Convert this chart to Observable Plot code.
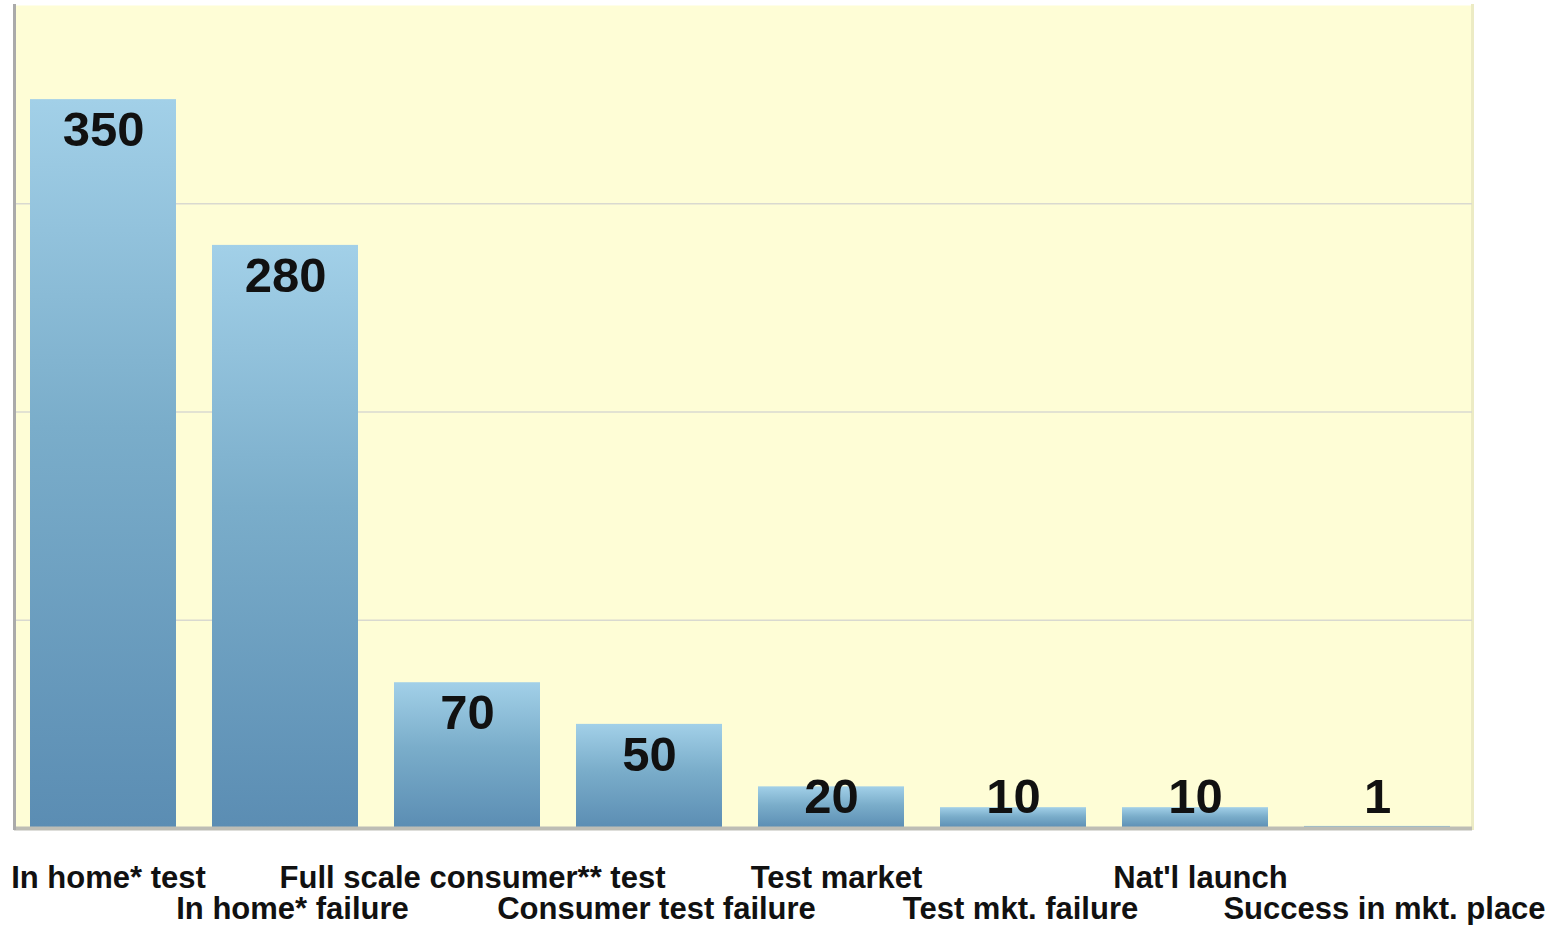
<!DOCTYPE html>
<html>
<head>
<meta charset="utf-8">
<script src="https://cdn.jsdelivr.net/npm/d3@7"></script>
<script src="https://cdn.jsdelivr.net/npm/@observablehq/plot@0.6"></script>
<style>
  html, body { margin: 0; padding: 0; background: #ffffff; }
  #chart svg { display: block; }
</style>
</head>
<body>
<div id="chart"></div>
<script>
const categories = [
  "In home* test",
  "In home* failure",
  "Full scale consumer** test",
  "Consumer test failure",
  "Test market",
  "Test mkt. failure",
  "Nat'l launch",
  "Success in mkt. place"
];
const values = [350, 280, 70, 50, 20, 10, 10, 1];
const gridTicks = [100, 200, 300];

const data = categories.map((c, i) => ({category: c, value: values[i], row: i % 2}));

const font = "'Liberation Sans', Arial, sans-serif";

const chart = Plot.plot({
  width: 1566,
  height: 925,
  marginLeft: 14,
  marginRight: 94,
  marginTop: 5,
  marginBottom: 97,
  style: {background: "#ffffff", fontFamily: font},
  x: {domain: categories, paddingInner: 0.2, paddingOuter: 0.1, range: [12, 1468], axis: null},
  y: {domain: [0, 400], range: [828, -5], axis: null},
  marks: [
    Plot.frame({fill: "#fefdd6", stroke: null}),
    Plot.frame({anchor: "right", stroke: "#ecebc4", strokeWidth: 3}),
    Plot.ruleY(gridTicks, {stroke: "#d9d9d0", strokeWidth: 1.5}),
    Plot.barY(data, {x: "category", y: "value", fill: "url(#barGrad)"}),
    Plot.ruleY([0], {stroke: "#bdbdb5", strokeWidth: 4}),
    Plot.frame({anchor: "left", stroke: "#aaaaaa", strokeWidth: 3}),
    Plot.text(data, {
      x: "category",
      y: d => Math.max(d.value, 30),
      text: d => String(d.value),
      dy: 31,
      lineAnchor: "middle",
      fontSize: 49,
      fontWeight: "bold",
      fill: "#111111"
    }),
    Plot.text(data.filter(d => d.row === 0), {
      x: "category",
      y: 0,
      text: "category",
      dy: 50,
      dx: 5,
      lineAnchor: "middle",
      fontSize: 31,
      fontWeight: "bold",
      fill: "#111111"
    }),
    Plot.text(data.filter(d => d.row === 1), {
      x: "category",
      y: 0,
      text: "category",
      dy: 81,
      dx: 7,
      lineAnchor: "middle",
      fontSize: 31,
      fontWeight: "bold",
      fill: "#111111"
    })
  ]
});

// gradient definition for bars (per-bar, top light to bottom dark)
const ns = "http://www.w3.org/2000/svg";
const defs = document.createElementNS(ns, "defs");
const grad = document.createElementNS(ns, "linearGradient");
grad.setAttribute("id", "barGrad");
grad.setAttribute("x1", "0"); grad.setAttribute("y1", "0");
grad.setAttribute("x2", "0"); grad.setAttribute("y2", "1");
[["0%", "#a2d0e8"], ["45%", "#7aadca"], ["100%", "#5b8db3"]].forEach(([o, c]) => {
  const s = document.createElementNS(ns, "stop");
  s.setAttribute("offset", o);
  s.setAttribute("stop-color", c);
  grad.appendChild(s);
});
defs.appendChild(grad);
chart.insertBefore(defs, chart.firstChild);

document.getElementById("chart").appendChild(chart);
</script>
</body>
</html>
